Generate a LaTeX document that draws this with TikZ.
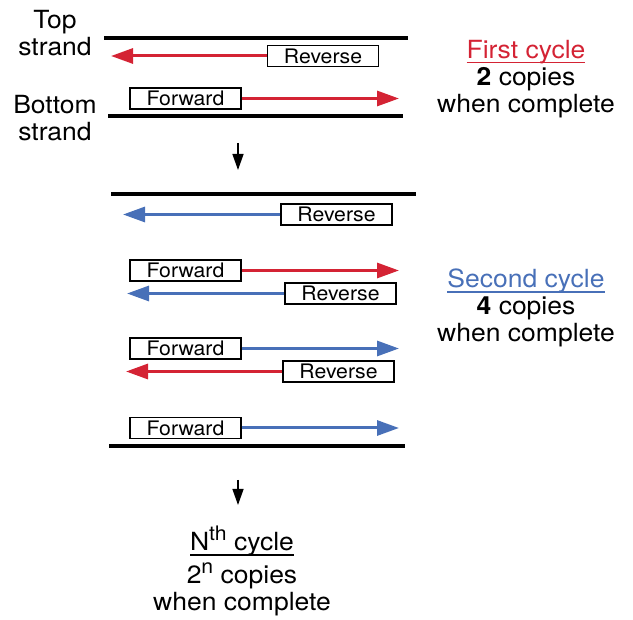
\documentclass[tikz,border=0pt]{standalone}
\usepackage{fontspec}
\setmainfont{TeX Gyre Heros}[FakeStretch=1.06]
\usetikzlibrary{arrows.meta}
\definecolor{pcrred}{RGB}{212,35,52}
\definecolor{pcrblue}{RGB}{72,112,184}
\newcommand{\cycul}[1]{\leavevmode\setbox0\hbox{#1}\rlap{\rule[-5pt]{\wd0}{1.7pt}}\box0}
\newcommand{\cycsup}[1]{\raisebox{10pt}{\fontsize{20}{20}\selectfont #1}}

\begin{document}
\begin{tikzpicture}[x=1pt,y=-1pt,
    primer/.style={draw,line width=1.4pt,minimum width=111pt,minimum height=21pt,
      inner sep=0pt,font=\fontsize{20}{22}\selectfont},
    strand/.style={line width=3.2pt},
    copyline/.style={line width=3pt,-{Triangle[length=22pt,width=15pt]}},
    redcopy/.style={copyline,pcrred},
    bluecopy/.style={copyline,pcrblue},
    cyclabel/.style={align=center,font=\fontsize{25}{27}\selectfont},
    nextcycle/.style={line width=1.4pt,-{Triangle[length=16pt,width=11pt]}}]

    \useasboundingbox (0,0) rectangle (633,620);

    \draw[strand] (104,38) -- (408,38);
    \draw[strand] (108,116) -- (403,116);

    \node[primer] (rA) at (323,56) {Reverse};
    \node[primer] (fA) at (185.5,98.5) {Forward};
    \coordinate (rAend) at (111,56);
    \coordinate (fAend) at (399,98.5);
    \draw[redcopy] (rA.west) -- (rAend);
    \draw[redcopy] (fA.east) -- (fAend);

    \node[cyclabel] (top) at (55,33.5) {Top\\strand};
    \node[cyclabel] (bottom) at (55,118) {Bottom\\strand};
    \node[cyclabel] (cycA) at (526,79)
      {\textcolor{pcrred}{\cycul{First cycle}}\\\textbf{2} copies\\when complete};

    \coordinate (goA) at (238,143);
    \coordinate (goB) at (238,170);
    \draw[nextcycle] (goA) -- (goB);

    \draw[strand] (111,194) -- (416,194);
    \draw[strand] (109,446) -- (405,446);

    \node[primer] (rB) at (336.5,214.5) {Reverse};
    \node[primer] (fB) at (185.5,270.5) {Forward};
    \node[primer] (rC) at (340.5,293.5) {Reverse};
    \node[primer] (fC) at (185.5,348.5) {Forward};
    \node[primer] (rD) at (338.5,371.5) {Reverse};
    \node[primer] (fD) at (185.5,428) {Forward};

    \coordinate (rBend) at (123,214.5);
    \coordinate (fBend) at (399,270.5);
    \coordinate (rCend) at (127,293.5);
    \coordinate (fCend) at (399,348.5);
    \coordinate (rDend) at (126,371.5);
    \coordinate (fDend) at (399,428);

    \draw[bluecopy] (rB.west) -- (rBend);
    \draw[redcopy] (fB.east) -- (fBend);
    \draw[bluecopy] (rC.west) -- (rCend);
    \draw[bluecopy] (fC.east) -- (fCend);
    \draw[redcopy] (rD.west) -- (rDend);
    \draw[bluecopy] (fD.east) -- (fDend);

    \node[cyclabel] (cycB) at (526,308)
      {\textcolor{pcrblue}{\cycul{Second cycle}}\\\textbf{4} copies\\when complete};

    \coordinate (goC) at (238,480);
    \coordinate (goD) at (238,505);
    \draw[nextcycle] (goC) -- (goD);

    \node[cyclabel] (cycN) at (242,571)
      {\cycul{N\cycsup{th} cycle}\\[6pt]2\cycsup{n} copies\\when complete};
  \end{tikzpicture}
\end{document}
